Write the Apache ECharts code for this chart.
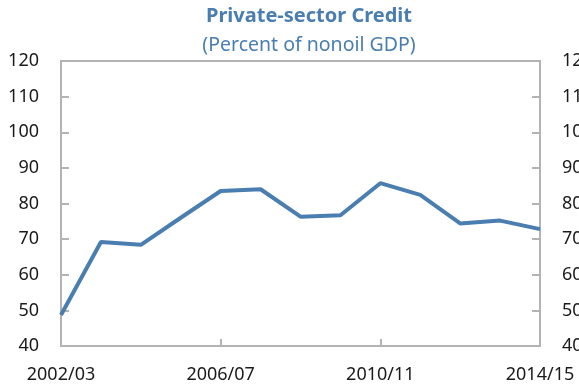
<!DOCTYPE html>
<html>
<head>
<meta charset="utf-8">
<style>
  html, body { margin: 0; padding: 0; background: #fff; }
  #chart { width: 579px; height: 389px; }
</style>
<script src="https://cdn.jsdelivr.net/npm/echarts@6/dist/echarts.min.js"></script>
</head>
<body>
<div id="chart"></div>
<script>
// Fiscal years on the horizontal axis
const years = ['2002/03', '2003/04', '2004/05', '2005/06', '2006/07', '2007/08', '2008/09',
               '2009/10', '2010/11', '2011/12', '2012/13', '2013/14', '2014/15'];
// Private-sector credit, percent of nonoil GDP
const credit = [48.7, 69.2, 68.4, 76.0, 83.5, 84.0, 76.3, 76.7, 85.7, 82.4, 74.4, 75.2, 72.8];
// Value axis range
const yMin = 40, yMax = 120, yStep = 10;

const FONT = 'Noto Sans';
const BLUE = '#4a7eb0';
const GRID = '#b3b3b3';

const chart = echarts.init(document.getElementById('chart'), null, { renderer: 'canvas' });

const yAxisBase = {
  type: 'value', min: yMin, max: yMax, interval: yStep,
  axisLine: { show: true, lineStyle: { color: GRID, width: 2 } },
  axisTick: { show: true, inside: true, length: 8, lineStyle: { color: GRID, width: 2 } },
  splitLine: { show: false },
  axisLabel: { color: '#1a1a1a', fontFamily: FONT, fontSize: 18, margin: 22 }
};

chart.setOption({
  animation: false,
  title: [
    { text: 'Private-sector Credit', left: 304, top: 1, textAlign: 'center',
      textStyle: { color: BLUE, fontFamily: FONT, fontWeight: 'bold', fontSize: 20 } },
    { text: '(Percent of nonoil GDP)', left: 304, top: 30, textAlign: 'center',
      textStyle: { color: BLUE, fontFamily: FONT, fontWeight: 'normal', fontSize: 19.5 } }
  ],
  grid: { left: 61, right: 39, top: 61, bottom: 43, show: true, borderColor: GRID, borderWidth: 2,
          containLabel: false, outerBoundsMode: 'none' },
  xAxis: {
    type: 'category', data: years, boundaryGap: false,
    axisLine: { show: true, lineStyle: { color: GRID, width: 2 } },
    axisTick: { show: true, inside: true, length: 7, interval: 3, lineStyle: { color: GRID, width: 2 } },
    axisLabel: { interval: 3, color: '#1a1a1a', fontFamily: FONT, fontSize: 18, margin: 20 },
    splitLine: { show: false }
  },
  yAxis: [
    Object.assign({}, yAxisBase, { position: 'left' }),
    Object.assign({}, yAxisBase, { position: 'right' })
  ],
  series: [{
    type: 'line', data: credit, yAxisIndex: 0,
    symbol: 'none', lineStyle: { color: BLUE, width: 4 }
  }]
});
</script>
</body>
</html>
